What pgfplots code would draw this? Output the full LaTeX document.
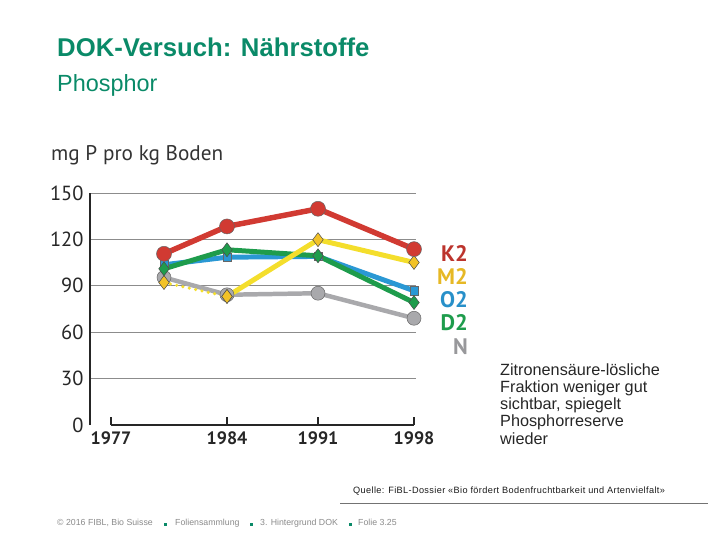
\documentclass[border=0pt]{standalone}
\usepackage{pgfplots}
\pgfplotsset{compat=1.18}
\usepackage{fontspec}
\setmainfont{Liberation Sans}
\newfontfamily\ptsans{PT Sans}

\definecolor{fiblgreen}{HTML}{0A8A68}
\definecolor{kred}{HTML}{D13A32}
\definecolor{myellow}{HTML}{F4DE2C}
\definecolor{myellowm}{HTML}{F2C227}
\definecolor{oblue}{HTML}{2A98D4}
\definecolor{dgreen}{HTML}{1E9C4C}
\definecolor{ngrey}{HTML}{A9A9AC}
\definecolor{txtgrey}{HTML}{8A8A8A}

% x positions (pixel units of the original slide): 1980, 1984, 1991, 1998
\pgfplotstableread{
x    y
164  110.7
227  128.4
318  139.8
414  113.7
}\kzwei
\pgfplotstableread{
x    y
227  83.1
318  119.8
414  105.1
}\mzwei
\pgfplotstableread{
x    y
164  92.1
227  83.1
}\mzweistart
\pgfplotstableread{
x    y
164  103.6
227  108.5
318  109.0
414  86.8
}\ozwei
\pgfplotstableread{
x    y
164  101.0
227  113.3
318  109.4
414  79.2
}\dzwei
\pgfplotstableread{
x    y
164  95.4
227  84.2
318  85.2
414  69.0
}\nnull

\begin{document}
\begin{tikzpicture}
\useasboundingbox (0,0) rectangle (720bp,-540bp);

% slide texts
\node[anchor=base west, inner sep=0, text=fiblgreen, font=\bfseries\fontsize{25.8}{26}\selectfont]
  at (57bp,-56bp) {DOK-Versuch: Nährstoffe};
\node[anchor=base west, inner sep=0, text=fiblgreen, font=\fontsize{23.5}{24}\selectfont]
  at (57bp,-91bp) {Phosphor};
\node[anchor=base west, inner sep=0, text=black!80, font=\ptsans\fontsize{21.3}{21}\selectfont]
  at (51bp,-160bp) {mg P pro kg Boden};

\begin{axis}[
  at={(90bp,-425bp)}, anchor=south west,
  scale only axis, width=326bp, height=232bp,
  xmin=90, xmax=416, ymin=0, ymax=150,
  clip=false,
  axis lines*=left,
  x axis line style={draw=none},
  y axis line style={line width=1.1pt, black!85},
  xtick={111,227,318,414},
  xticklabels={1977,1984,1991,1998},
  xtick align=inside,
  xtick style={line width=1.3pt, black!85},
  major tick length=8bp,
  ytick={30,60,90,120,150},
  extra y ticks={0},
  extra y tick style={grid=none},
  ytick style={draw=none},
  ymajorgrids,
  grid style={line width=0.8pt, black!45},
  /pgf/number format/assume math mode=true,
  yticklabel style={font=\ptsans\fontsize{20.5}{20}\selectfont, text=black!85, xshift=-3bp},
  xticklabel style={font=\ptsans\bfseries\fontsize{18}{18}\selectfont, text=black!85, yshift=-3bp},
]
\draw[line width=1.3pt, black!85] (axis cs:111,0) -- (axis cs:414,0);

\addplot[ngrey, line width=4.5pt, mark=*, mark size=7bp,
  mark options={fill=ngrey, draw=black!60, line width=0.5pt}] table {\nnull};
\addplot[myellow, line width=3.5pt, line cap=round, dash pattern=on 0pt off 6.5pt, mark=diamond*, mark size=7bp,
  mark options={solid, fill=myellowm, draw=black!70, line width=0.5pt}] table {\mzweistart};
\addplot[oblue, line width=5pt, mark=square*, mark size=4.2bp,
  mark options={fill=oblue, draw=black!60, line width=0.5pt}] table {\ozwei};
\addplot[dgreen, line width=5pt, mark=diamond*, mark size=7bp,
  mark options={fill=dgreen, draw=black!70, line width=0.5pt}] table {\dzwei};
\addplot[myellow, line width=5pt, mark=diamond*, mark size=7bp,
  mark options={fill=myellowm, draw=black!70, line width=0.5pt}] table {\mzwei};
\addplot[kred, line width=5.5pt, mark=*, mark size=7.5bp,
  mark options={fill=kred, draw=black!60, line width=0.5pt}] table {\kzwei};
\end{axis}

% series names
\begin{scope}[every node/.style={anchor=base east, inner sep=0, font=\ptsans\bfseries\fontsize{22.5}{22}\selectfont}]
\node[text=kred!90!black] at (468bp,-261bp) {K2};
\node[text=myellowm!95!black] at (468bp,-284bp) {M2};
\node[text=oblue!95!black] at (468bp,-307bp) {O2};
\node[text=dgreen] at (468bp,-330bp) {D2};
\node[text=ngrey!90!black] at (468bp,-354bp) {N};
\end{scope}

\node[anchor=base west, inner sep=0, align=left, text=black!85,
  font=\fontsize{16.3}{17.1}\selectfont] at (500bp,-444bp)
  {Zitronensäure-lösliche\\Fraktion weniger gut\\sichtbar, spiegelt\\Phosphorreserve\\wieder};

\node[anchor=base west, inner sep=0, font=\addfontfeatures{LetterSpace=4}\fontsize{9.2}{9}\selectfont, text=black!90]
  at (353bp,-493bp) {Quelle: FiBL-Dossier «Bio fördert Bodenfruchtbarkeit und Artenvielfalt»};
\draw[black!55, line width=0.9pt] (340bp,-503bp) -- (708bp,-503bp);

% footer
\begin{scope}[every node/.style={anchor=base west, inner sep=0, text=txtgrey, font=\fontsize{8.8}{9}\selectfont}]
\node at (57bp,-525.7bp) {© 2016 FIBL, Bio Suisse};
\node at (175bp,-525.7bp) {Foliensammlung};
\node at (260bp,-525.7bp) {3. Hintergrund DOK};
\node at (358bp,-525.7bp) {Folie 3.25};
\end{scope}
\fill[fiblgreen] (163.5bp,-526bp) rectangle ++(3bp,3bp);
\fill[fiblgreen] (249.5bp,-526bp) rectangle ++(3bp,3bp);
\fill[fiblgreen] (348.5bp,-526bp) rectangle ++(3bp,3bp);
\end{tikzpicture}
\end{document}
